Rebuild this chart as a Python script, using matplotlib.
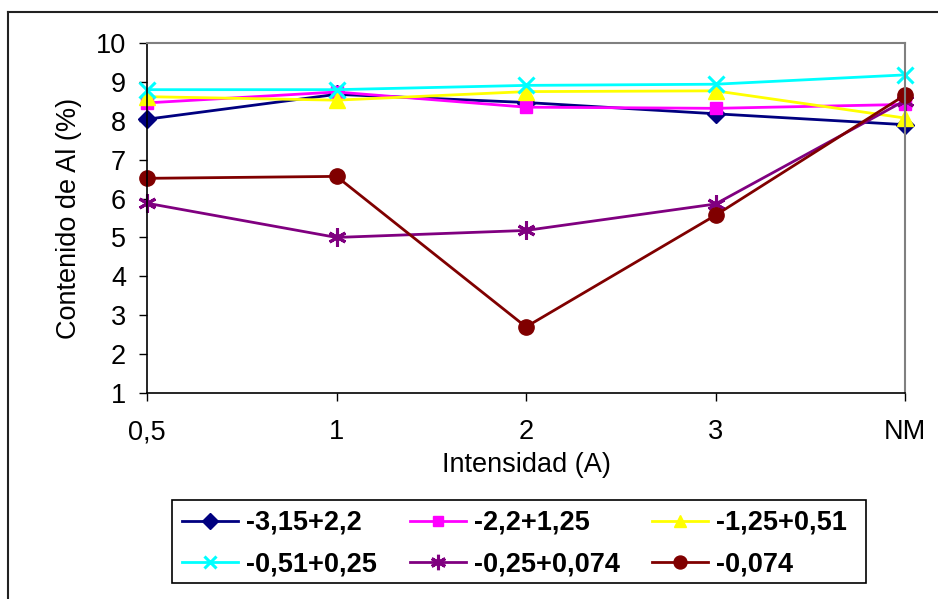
import matplotlib
matplotlib.use('Agg')
import matplotlib.pyplot as plt
from matplotlib.lines import Line2D
from matplotlib.patches import Rectangle

plt.rcParams['font.family'] = ['Liberation Sans', 'DejaVu Sans']

categories = ['0,5', '1', '2', '3', 'NM']
s_315_22 = [8.04, 8.68, 8.47, 8.18, 7.90]
s_22_125 = [8.46, 8.74, 8.35, 8.32, 8.42]
s_125_051 = [8.62, 8.53, 8.75, 8.77, 8.07]
s_051_025 = [8.80, 8.80, 8.91, 8.94, 9.18]
s_025_0074 = [5.88, 5.00, 5.18, 5.86, 8.52]
s_0074 = [6.52, 6.57, 2.70, 5.57, 8.66]

series = [
    ('-3,15+2,2', s_315_22, '#000080', 'D', 9, 0),
    ('-2,2+1,25', s_22_125, '#FF00FF', 's', 9, 0),
    ('-1,25+0,51', s_125_051, '#FFFF00', '^', 11, 0),
    ('-0,51+0,25', s_051_025, '#00FFFF', 'x', 11, 2.2),
    ('-0,25+0,074', s_025_0074, '#800080', (6, 2, 0), 13, 2.2),
    ('-0,074', s_0074, '#800000', 'o', 11, 0),
]

fig = plt.figure(figsize=(9.38, 5.99), dpi=100)
ax = fig.add_axes([147 / 938, 1 - 393 / 599, 758 / 938, 350 / 599])

x = list(range(len(categories)))
handles = []
for label, vals, color, marker, ms, mew in series:
    h, = ax.plot(x, vals, color=color, lw=2.0, marker=marker, markersize=ms,
                 markeredgewidth=mew if mew else 1, markeredgecolor=color,
                 markerfacecolor=color, label=label, clip_on=False)
    handles.append(h)

ax.set_xlim(0, 4)
ax.set_ylim(1, 10)
ax.set_xticks(x)
ax.set_xticklabels(categories)
ax.set_yticks(range(1, 11))
ax.tick_params(axis='both', labelsize=19.5, direction='out', length=6,
               width=1, color='black', pad=9)
ax.tick_params(axis='x', pad=13)

for side in ['top', 'right']:
    ax.spines[side].set_color('#808080')
    ax.spines[side].set_linewidth(1.5)
for side in ['left', 'bottom']:
    ax.spines[side].set_color('black')
    ax.spines[side].set_linewidth(1.2)

ax.set_xlabel('Intensidad (A)', fontsize=19.5, labelpad=5)
ax.set_ylabel('Contenido de Al (%)', fontsize=19.5, labelpad=10)

# legend filled row by row, as in the original
order = [0, 3, 1, 4, 2, 5]
leg = fig.legend([handles[i] for i in order], [series[i][0] for i in order],
                 loc='upper left', bbox_to_anchor=(182 / 938, 1 - 510 / 599),
                 ncol=3, frameon=False, markerscale=0.85,
                 prop={'weight': 'bold', 'size': 19.5},
                 handlelength=2.07, handletextpad=0.3, columnspacing=1.2,
                 borderpad=0, labelspacing=0.56, borderaxespad=0)
fig.add_artist(Rectangle((172 / 938, 1 - 583 / 599), 694 / 938, 83 / 599,
                         transform=fig.transFigure, fill=False,
                         edgecolor='black', lw=1.2))

# outer chart frame
fig.add_artist(Line2D([8 / 938, 8 / 938], [0, 1 - 12 / 599], color='#222222', lw=1.5))
fig.add_artist(Line2D([8 / 938, 1], [1 - 12 / 599, 1 - 12 / 599], color='#222222', lw=1.5))

fig.savefig('out.png', dpi=100)
